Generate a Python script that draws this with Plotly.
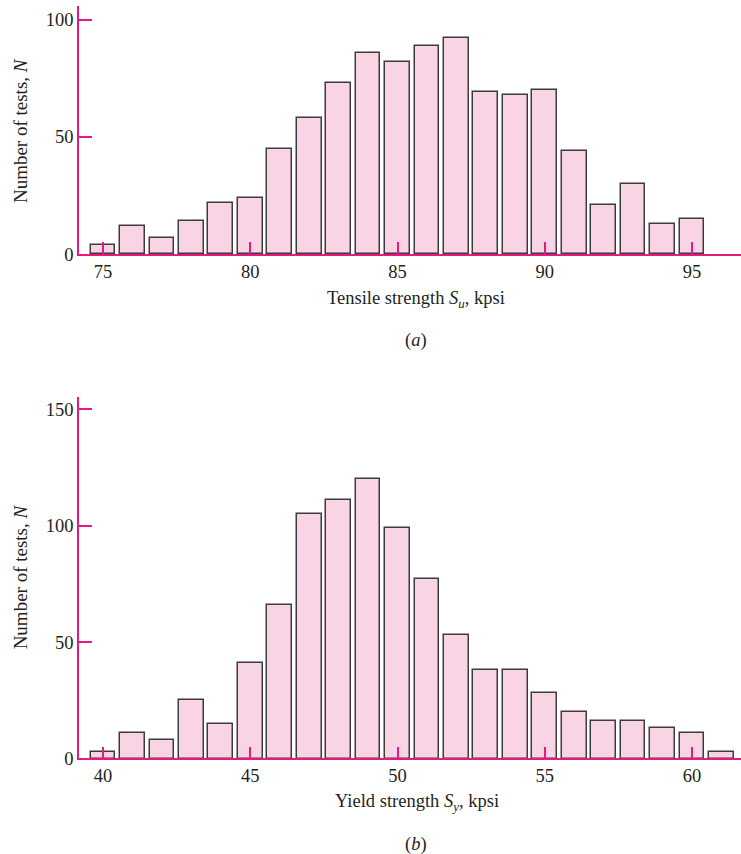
import plotly.graph_objects as go

# Data
tensile_x = list(range(75, 96))
tensile_n = [4, 12, 7, 14, 22, 24, 45, 58, 73, 86, 82, 89, 92, 69, 68, 70, 44, 21, 30, 13, 15]
yield_x = list(range(40, 62))
yield_n = [3, 11, 8, 25, 15, 41, 66, 105, 111, 120, 99, 77, 53, 38, 38, 28, 20, 16, 16, 13, 11, 3]
tensile_ticks = [75, 80, 85, 90, 95]
tensile_yticks = [0, 50, 100]
yield_ticks = [40, 45, 50, 55, 60]
yield_yticks = [0, 50, 100, 150]

MAG = "#E5197F"
FILL = "#F9D4E5"
EDGE = "#3C3C3C"
TXT = "#231F20"
FONT = "Liberation Serif, Times New Roman, serif"
K = 0.9878            # observed vertical scale of the captured page
W, H = 741, 864
FS = 18.5

fig = go.Figure()
fig.add_trace(go.Bar(x=tensile_x, y=tensile_n, width=0.84, marker=dict(color=FILL, line=dict(color=EDGE, width=1.5)),
                     xaxis="x", yaxis="y", showlegend=False, hoverinfo="skip"))
fig.add_trace(go.Bar(x=yield_x, y=yield_n, width=0.84, marker=dict(color=FILL, line=dict(color=EDGE, width=1.5)),
                     xaxis="x2", yaxis="y2", showlegend=False, hoverinfo="skip"))

def px_x(p):
    return p / W

def px_y(p):
    return (H - p / K) / H

common_x = dict(showline=True, linecolor=MAG, linewidth=1.5, ticks="inside", ticklen=12, tickwidth=1.5,
                tickcolor=MAG, showgrid=False, zeroline=False, tickfont=dict(family=FONT, size=FS, color=TXT))
common_y = dict(showline=True, linecolor=MAG, linewidth=1.5, ticks="inside", ticklen=13, tickwidth=1.5,
                tickcolor=MAG, showgrid=False, zeroline=False, tickfont=dict(family=FONT, size=FS, color=TXT))

x_left, x_right = 79, 741
ppu = 29.45
fig.update_layout(
    width=W, height=H, autosize=False, margin=dict(l=0, r=0, t=0, b=0, pad=0),
    paper_bgcolor="white", plot_bgcolor="white", bargap=0,
    xaxis=dict(**common_x, domain=[px_x(x_left), 1], anchor="y",
               range=[75 - (103 - x_left) / ppu, 75 + (x_right - 103) / ppu],
               tickvals=tensile_ticks),
    yaxis=dict(**common_y, domain=[px_y(254), px_y(6)], anchor="x",
               range=[0, 248 / 2.343], tickvals=tensile_yticks),
    xaxis2=dict(**common_x, domain=[px_x(x_left), 1], anchor="y2",
                range=[40 - (103 - x_left) / ppu, 40 + (x_right - 103) / ppu],
                tickvals=yield_ticks),
    yaxis2=dict(**common_y, domain=[px_y(758), px_y(396.7)], anchor="x2",
                range=[0, 361.3 / 2.327], tickvals=yield_yticks),
)

ann_font = dict(family=FONT, size=FS, color=TXT)
anns = [
    ("Tensile strength <i>S<sub>u</sub></i>, kpsi", 416, 299),
    ("(<i>a</i>)", 415.5, 340),
    ("Yield strength <i>S<sub>y</sub></i>, kpsi", 417, 802),
    ("(<i>b</i>)", 416, 844),
]
for text, x, y in anns:
    fig.add_annotation(text=text, x=px_x(x), y=px_y(y), xref="paper", yref="paper",
                       showarrow=False, xanchor="center", yanchor="middle", font=ann_font)
for y in [131, 577]:
    fig.add_annotation(text="Number of tests, <i>N</i>", x=px_x(20), y=px_y(y), xref="paper", yref="paper",
                       showarrow=False, textangle=-90, xanchor="center", yanchor="middle",
                       font=dict(family=FONT, size=19, color=TXT))

fig.write_html("out.html", config={"responsive": False, "displayModeBar": False},
               post_script="document.body.style.margin='0';document.body.style.overflow='hidden';")
